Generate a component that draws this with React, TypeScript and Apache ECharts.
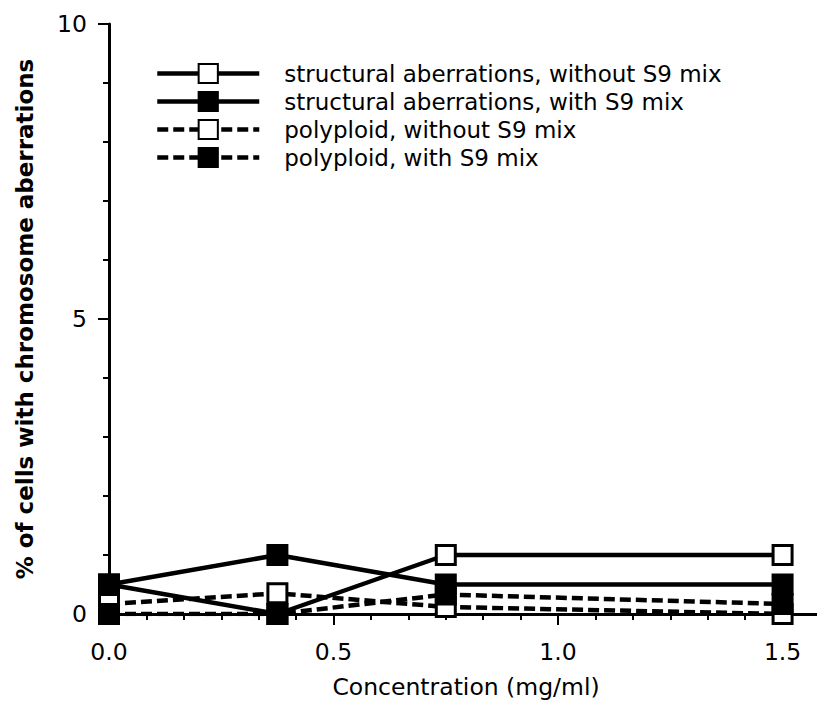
import React, { useEffect, useRef } from "react";
import * as echarts from "echarts";

const concentrations = [0, 0.375, 0.75, 1.5];
const structuralWithout = [0.5, 0, 1.0, 1.0];
const structuralWith = [0.5, 1.0, 0.5, 0.5];
const polyploidWithout = [0.17, 0.35, 0.12, 0];
const polyploidWith = [0, 0, 0.33, 0.17];
const seriesNames = [
  "structural aberrations, without S9 mix",
  "structural aberrations, with S9 mix",
  "polyploid, without S9 mix",
  "polyploid, with S9 mix",
];
const xTicks = [0, 0.5, 1.0, 1.5];
const yTicks = [0, 5, 10];

const FONT = "DejaVu Sans";

function pairs(values: number[]) {
  return concentrations.map((c, i) => [c, values[i]]);
}

export default function App() {
  const ref = useRef<HTMLDivElement>(null);
  useEffect(() => {
    if (!ref.current) return;
    const chart = echarts.init(ref.current, undefined, { renderer: "svg" });
    const mk = (
      name: string,
      values: number[],
      filled: boolean,
      dashed: boolean
    ) => ({
      name,
      type: "line",
      data: pairs(values),
      symbol: "rect",
      symbolSize: 19,
      z: filled ? 4 : 3,
      lineStyle: {
        color: "#000",
        width: 4.5,
        type: dashed ? [11, 5] : "solid",
      },
      itemStyle: {
        color: filled ? "#000" : "#fff",
        borderColor: "#000",
        borderWidth: 3,
      },
      emphasis: { disabled: true },
    });
    chart.setOption({
      animation: false,
      backgroundColor: "#fff",
      grid: { left: 109, right: 2, top: 24, bottom: 97, containLabel: false },
      legend: {
        orient: "vertical",
        left: 150,
        top: 57,
        padding: 5,
        itemWidth: 102,
        itemHeight: 24,
        itemGap: 5,
        selectedMode: false,
        data: seriesNames,
        lineStyle: { width: 4.5 },
        textStyle: {
          fontFamily: FONT,
          fontSize: 23,
          color: "#000",
          padding: [0, 0, 0, 20],
        },
      },
      xAxis: [
        {
          type: "value",
          min: 0,
          max: 1.59,
          interval: 0.5,
          name: "Concentration (mg/ml)",
          nameLocation: "middle",
          nameGap: 61,
          nameTextStyle: { fontFamily: FONT, fontSize: 23.5, color: "#000" },
          axisLine: { show: true, onZero: false, lineStyle: { color: "#000", width: 3 } },
          axisTick: {
            show: true,
            length: 11,
            lineStyle: { color: "#000", width: 2 },
          },
          minorTick: {
            show: true,
            splitNumber: 6,
            length: 6,
            lineStyle: { color: "#000", width: 2 },
          },
          splitLine: { show: false },
          minorSplitLine: { show: false },
          axisLabel: {
            customValues: xTicks,
            formatter: (v: number) => v.toFixed(1),
            fontFamily: FONT,
            fontSize: 23.5,
            color: "#000",
            margin: 26,
          },
        },
        {
          type: "value",
          position: "top",
          min: 0,
          max: 1.59,
          axisLine: { show: true, lineStyle: { color: "#000", width: 2 } },
          axisTick: { show: false },
          axisLabel: { show: false },
          splitLine: { show: false },
        },
      ],
      yAxis: {
        type: "value",
        min: 0,
        max: 10,
        interval: 5,
        name: "% of cells with chromosome aberrations",
        nameLocation: "middle",
        nameGap: 73,
        nameTextStyle: {
          fontFamily: FONT,
          fontSize: 23,
          fontWeight: "bold",
          color: "#000",
        },
        axisLine: { show: true, lineStyle: { color: "#000", width: 3 } },
        axisTick: {
          show: true,
          length: 11,
          lineStyle: { color: "#000", width: 2 },
        },
        minorTick: {
          show: true,
          splitNumber: 5,
          length: 6,
          lineStyle: { color: "#000", width: 2 },
        },
        splitLine: { show: false },
        minorSplitLine: { show: false },
        axisLabel: {
          customValues: yTicks,
          fontFamily: FONT,
          fontSize: 23.5,
          color: "#000",
          margin: 22,
        },
      },
      series: [
        mk(seriesNames[0], structuralWithout, false, false),
        mk(seriesNames[1], structuralWith, true, false),
        mk(seriesNames[2], polyploidWithout, false, true),
        mk(seriesNames[3], polyploidWith, true, true),
      ],
    });
    return () => chart.dispose();
  }, []);
  return <div ref={ref} style={{ width: 825, height: 711, margin: -8 }} />;
}
